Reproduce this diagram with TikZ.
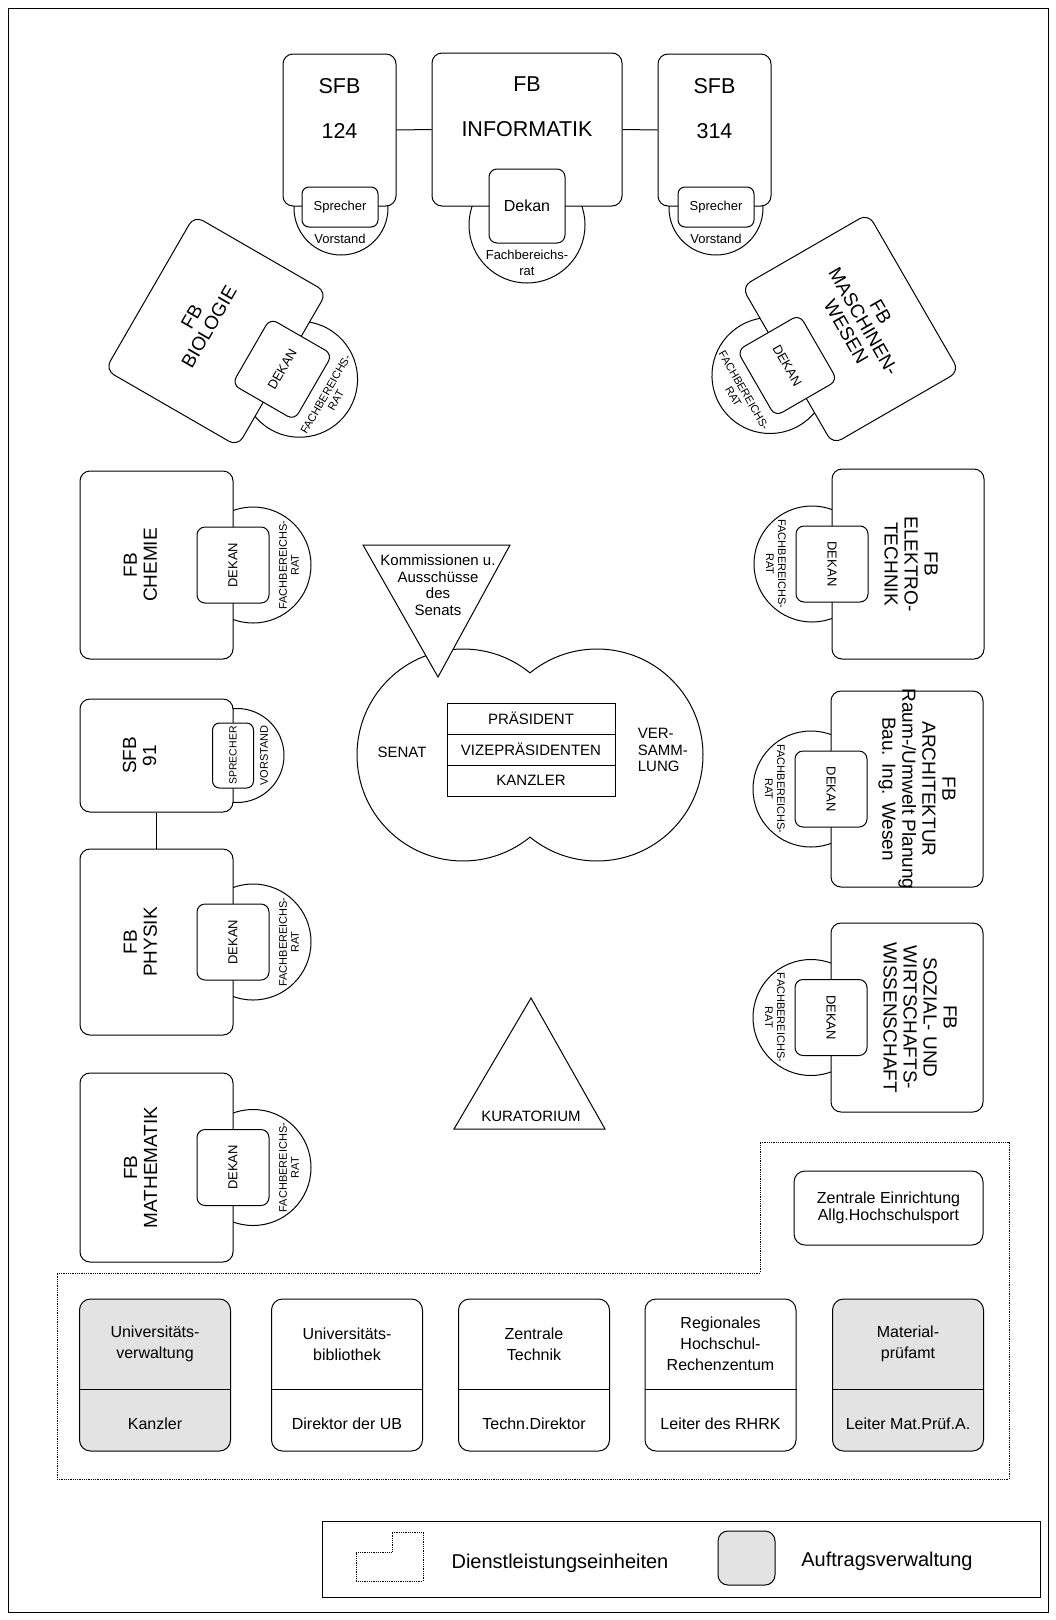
\documentclass[tikz,border=0pt]{standalone}
\usepackage{fontspec}
\setmainfont{Liberation Sans}

\definecolor{amtgrau}{gray}{0.89}

\tikzstyle{fbbox} = [draw, fill=white, rounded corners=10pt, line width=1pt]
\tikzstyle{dekanbox} = [draw, fill=white, rounded corners=8pt, line width=1pt, minimum width=76pt, minimum height=72pt, font=\fontsize{13}{15}\selectfont]
\tikzstyle{sprecherbox} = [draw, fill=white, rounded corners=7pt, line width=1pt, minimum width=76pt, minimum height=40pt, font=\fontsize{13}{15}\selectfont]
\tikzstyle{fbtitle} = [align=center, font=\fontsize{19}{20}\selectfont]
\tikzstyle{bigtext} = [font=\fontsize{21.5}{23}\selectfont]
\tikzstyle{smalltext} = [align=center, font=\fontsize{13}{16}\selectfont]
\tikzstyle{ratlabel} = [align=center, font=\fontsize{11}{12}\selectfont]
\tikzstyle{midtext} = [align=center, font=\fontsize{15}{16.7}\selectfont]
\tikzstyle{dbox} = [draw, rounded corners=11pt, line width=1pt, minimum width=151pt, minimum height=152pt]
\tikzstyle{dtext} = [align=center, font=\fontsize{16}{21}\selectfont]
\tikzstyle{legtext} = [font=\fontsize{20}{22}\selectfont]

% Fachbereich mit Dekan und Fachbereichsrat
\newcommand{\fbunit}[7]{%
	\begin{scope}[shift={#2}, rotate=#3, transform shape]
		\draw (0,-#5/2-20) circle (58pt);
		\node [fbbox, minimum width=#4pt, minimum height=#5pt] (#1) at (0,0) {};
		\node [fbtitle] (#1-name) at (0,#7) {#6};
		\node [dekanbox] (#1-dekan) at (0,-#5/2) {DEKAN};
		\node [ratlabel] (#1-rat) at (0,-#5/2-56) {FACHBEREICHS-\\RAT};
	\end{scope}}

% Dienstleistungseinheit
\newcommand{\dienst}[5]{%
	\node [dbox, fill=#3] (#1) at (#2,-1375) {};
	\draw ([yshift=-91pt]#1.north west) -- ([yshift=-91pt]#1.north east);
	\node [dtext] (#1-name) at (#2,-1344) {#4};
	\node [dtext] (#1-leiter) at (#2,-1424) {#5};}

\begin{document}
\begin{tikzpicture}[x=1pt, y=1pt, line width=1pt]
		\useasboundingbox (0,0) rectangle (1056,-1620);
		\node [draw, line width=0.8pt, minimum width=1040pt, minimum height=1604pt] (rahmen) at (528,-810) {};
		
		% SFB 124, FB Informatik, SFB 314
		\draw (341,-208) circle (47pt);
		\node [fbbox, minimum width=113pt, minimum height=152pt] (sfb124) at (339.5,-130) {};
		\node [bigtext] (sfb124-a) at (339.5,-86) {SFB};
		\node [bigtext] (sfb124-b) at (339.5,-131) {124};
		\node [sprecherbox] (sfb124-sprecher) at (340,-207) {Sprecher};
		\node [smalltext] (sfb124-vorstand) at (340,-239) {Vorstand};
		
		\draw (527,-225) circle (58pt);
		\node [fbbox, minimum width=190pt, minimum height=153pt] (inf) at (527,-129.5) {};
		\node [bigtext] (inf-a) at (527,-84) {FB};
		\node [bigtext] (inf-b) at (527,-129) {INFORMATIK};
		\node [dekanbox, minimum height=74pt, font=\fontsize{16}{18}\selectfont] (inf-dekan) at (527,-206) {Dekan};
		\node [smalltext] (inf-rat) at (527,-263) {Fachbereichs-\\rat};
		
		\draw (716,-208) circle (47pt);
		\node [fbbox, minimum width=113pt, minimum height=152pt] (sfb314) at (714.5,-130) {};
		\node [bigtext] (sfb314-a) at (714.5,-86) {SFB};
		\node [bigtext] (sfb314-b) at (714.5,-131) {314};
		\node [sprecherbox] (sfb314-sprecher) at (716,-207) {Sprecher};
		\node [smalltext] (sfb314-vorstand) at (716,-239) {Vorstand};
		
		\draw (sfb124.east) -- (inf.west);
		\draw (inf.east) -- (sfb314.west);
		
		% Fachbereiche links und rechts
		\fbunit{bio}{(216,-331)}{60}{178}{153}{FB\\BIOLOGIE}{18}
		\fbunit{masch}{(850.5,-329)}{-60}{182}{146}{FB\\MASCHINEN-\\WESEN}{15}
		\fbunit{chem}{(156.5,-565)}{90}{188}{153}{FB\\CHEMIE}{16}
		\fbunit{phys}{(156.5,-942)}{90}{186}{153}{FB\\PHYSIK}{16}
		\fbunit{math}{(156.5,-1167.5)}{90}{189}{153}{FB\\MATHEMATIK}{16}
		\fbunit{elek}{(908,-564)}{-90}{190}{152}{FB\\ELEKTRO-\\TECHNIK}{3}
		\fbunit{arch}{(907,-789)}{-90}{196}{152}{FB\\ARCHITEKTUR\\Raum-/Umwelt Planung\\Bau. Ing. Wesen}{10}
		\fbunit{soz}{(907,-1017.5)}{-90}{189}{152}{FB\\SOZIAL- UND\\WIRTSCHAFTS-\\WISSENSCHAFT}{13}
		
		% SFB 91
		\begin{scope}[shift={(156.5,-755.5)}, rotate=90, transform shape]
			\draw (0,-80.5) circle (47pt);
			\node [fbbox, minimum width=113pt, minimum height=153pt] (sfb91) at (0,0) {};
			\node [fbtitle] (sfb91-name) at (0,17) {SFB\\91};
			\node [sprecherbox, minimum width=62pt, minimum height=41pt, font=\fontsize{10.5}{12}\selectfont] (sfb91-sprecher) at (0,-76.5) {SPRECHER};
			\node [ratlabel] (sfb91-vorstand) at (0,-107.5) {VORSTAND};
		\end{scope}
		\draw (sfb91.west) -- (phys.east);
		
		% Senat und Versammlung
		\draw (530,-672.86) arc [start angle=50.79, end angle=309.21, radius=106pt]
			arc [start angle=230.79, end angle=489.21, radius=106pt] -- cycle;
		\node [midtext] (senat) at (402,-752) {SENAT};
		\node [midtext, align=left, anchor=west] (versammlung) at (634,-750) {VER-\\SAMM-\\LUNG};
		\node [draw, midtext, minimum width=168pt, minimum height=31pt] (praes) at (531,-718.5) {PRÄSIDENT};
		\node [draw, midtext, minimum width=168pt, minimum height=31pt] (vize) at (531,-749.5) {VIZEPRÄSIDENTEN};
		\node [draw, midtext, minimum width=168pt, minimum height=31pt] (kanzler) at (531,-780.5) {KANZLER};
		
		\filldraw [fill=white] (363,-545) -- (510,-545) -- (438,-677) -- cycle;
		\node [midtext] (kommissionen) at (438,-585) {Kommissionen u.\\Ausschüsse\\des\\Senats};
		
		\draw (531,-998) -- (605,-1129) -- (454,-1129) -- cycle;
		\node [midtext] (kuratorium) at (531,-1116) {KURATORIUM};
		
		% Dienstleistungseinheiten
		\draw [densely dotted, line width=0.8pt] (760,-1142) -- (1009,-1142) -- (1009,-1479) -- (57,-1479) -- (57,-1273) -- (760,-1273) -- cycle;
		\node [draw, rounded corners=11pt, minimum width=189pt, minimum height=74pt, midtext, font=\fontsize{16}{17}\selectfont] (sport) at (888.5,-1208) {Zentrale Einrichtung\\Allg.Hochschulsport};
		
		\dienst{uv}{155}{amtgrau}{Universitäts-\\verwaltung}{Kanzler}
		\dienst{ub}{347}{white}{Universitäts-\\bibliothek}{Direktor der UB}
		\dienst{zt}{534}{white}{Zentrale\\Technik}{Techn.Direktor}
		\dienst{rhrk}{720.5}{white}{Regionales\\Hochschul-\\Rechenzentum}{Leiter des RHRK}
		\dienst{mpa}{908}{amtgrau}{Material-\\prüfamt}{Leiter Mat.Prüf.A.}
		
		% Legende
		\node [draw, minimum width=718pt, minimum height=76pt] (legende) at (681,-1559) {};
		\draw [densely dotted, line width=0.8pt] (392,-1532) -- (423,-1532) -- (423,-1581) -- (356,-1581) -- (356,-1552) -- (392,-1552) -- cycle;
		\node [legtext] (leg-dienst) at (560,-1563) {Dienstleistungseinheiten};
		\node [draw, fill=amtgrau, rounded corners=10pt, minimum width=57pt, minimum height=54pt] (leg-auftrag-box) at (746.5,-1558) {};
		\node [legtext] (leg-auftrag) at (887,-1561) {Auftragsverwaltung};
	\end{tikzpicture}
\end{document}
